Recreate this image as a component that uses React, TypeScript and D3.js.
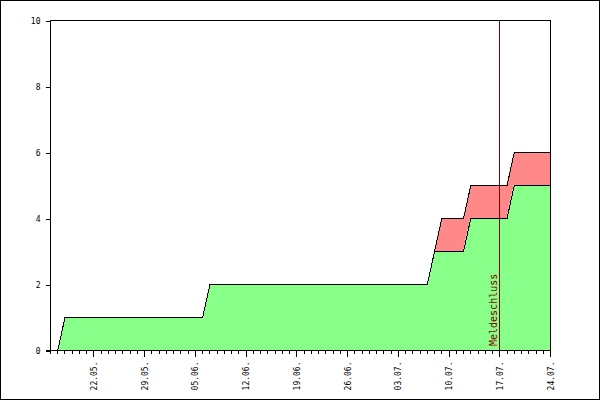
import React, { useEffect, useRef } from "react";
import * as d3 from "d3";

// axis runs from 16.05. to 24.07., data starts 17.05.
const axisStart = "2023-05-16";
const axisEnd = "2023-07-24";
const firstDay = "2023-05-17";
const deadline = "2023-07-17";
const deadlineLabel = "Meldeschluss";

// daily counts, 17.05. .. 24.07.
const greenValues = [
  0, 1, 1, 1, 1, 1, 1, 1, 1, 1, 1, 1, 1, 1, 1, 1, 1, 1, 1, 1, 1, 2, 2, 2, 2,
  2, 2, 2, 2, 2, 2, 2, 2, 2, 2, 2, 2, 2, 2, 2, 2, 2, 2, 2, 2, 2, 2, 2, 2, 2,
  2, 2, 3, 3, 3, 3, 3, 4, 4, 4, 4, 4, 4, 5, 5, 5, 5, 5, 5,
];
const redValues = [
  0, 0, 0, 0, 0, 0, 0, 0, 0, 0, 0, 0, 0, 0, 0, 0, 0, 0, 0, 0, 0, 0, 0, 0, 0,
  0, 0, 0, 0, 0, 0, 0, 0, 0, 0, 0, 0, 0, 0, 0, 0, 0, 0, 0, 0, 0, 0, 0, 0, 0,
  0, 0, 0, 1, 1, 1, 1, 1, 1, 1, 1, 1, 1, 1, 1, 1, 1, 1, 1,
];
const yTicks = [0, 2, 4, 6, 8, 10];

const App = () => {
  const ref = useRef<SVGSVGElement>(null);

  useEffect(() => {
    const svg = d3.select(ref.current);
    svg.selectAll("*").remove();

    const width = 600;
    const height = 400;
    const margin = { top: 20, right: 50, bottom: 50, left: 50 };

    const parse = d3.utcParse("%Y-%m-%d");
    const fmt = d3.utcFormat("%d.%m.");
    const start = parse(axisStart)!;
    const end = parse(axisEnd)!;
    const days = d3.utcDay.range(parse(firstDay)!, d3.utcDay.offset(end, 1));

    const data = days.map((d, i) => ({
      date: d,
      green: greenValues[i],
      total: greenValues[i] + redValues[i],
    }));

    const x = d3
      .scaleUtc()
      .domain([start, end])
      .range([margin.left, width - margin.right]);
    const y = d3
      .scaleLinear()
      .domain([0, 10])
      .range([height - margin.bottom, margin.top]);

    const font = "'DejaVu Sans Mono', monospace";

    svg
      .append("rect")
      .attr("x", 0.5)
      .attr("y", 0.5)
      .attr("width", width - 1)
      .attr("height", height - 1)
      .attr("fill", "#fff")
      .attr("stroke", "#000")
      .attr("shape-rendering", "crispEdges");

    // red area (between green and total)
    const redArea = d3
      .area<any>()
      .x((d) => x(d.date))
      .y0((d) => y(d.green))
      .y1((d) => y(d.total));
    svg
      .append("path")
      .datum(data)
      .attr("d", redArea)
      .attr("fill", "#ff8888");

    const greenArea = d3
      .area<any>()
      .x((d) => x(d.date))
      .y0(y(0))
      .y1((d) => y(d.green));
    svg
      .append("path")
      .datum(data)
      .attr("d", greenArea)
      .attr("fill", "#88ff88");

    const lineTotal = d3
      .line<any>()
      .x((d) => x(d.date) + 0.5)
      .y((d) => y(d.total) + 0.5);
    const lineGreen = d3
      .line<any>()
      .x((d) => x(d.date) + 0.5)
      .y((d) => y(d.green) + 0.5);
    [lineTotal, lineGreen].forEach((l) => {
      svg
        .append("path")
        .datum(data)
        .attr("d", l)
        .attr("fill", "none")
        .attr("stroke", "#000")
        .attr("stroke-width", 1)
        .attr("shape-rendering", "crispEdges");
    });

    // plot frame
    svg
      .append("rect")
      .attr("x", margin.left + 0.5)
      .attr("y", margin.top + 0.5)
      .attr("width", width - margin.left - margin.right)
      .attr("height", height - margin.top - margin.bottom)
      .attr("fill", "none")
      .attr("stroke", "#000")
      .attr("shape-rendering", "crispEdges");

    // deadline marker
    const dl = parse(deadline)!;
    svg
      .append("line")
      .attr("x1", x(dl) + 0.5)
      .attr("x2", x(dl) + 0.5)
      .attr("y1", margin.top)
      .attr("y2", y(0))
      .attr("stroke", "#800000")
      .attr("shape-rendering", "crispEdges");
    svg
      .append("text")
      .attr("transform", `translate(${x(dl) - 2},${y(0) - 4}) rotate(-90)`)
      .attr("font-family", font)
      .attr("font-size", 10)
      .attr("fill", "#800000")
      .text(deadlineLabel);

    // y axis
    const yAxis = svg
      .append("g")
      .attr("transform", `translate(${margin.left + 0.5},0.5)`)
      .call(
        d3.axisLeft(y).tickValues(yTicks).tickSize(5).tickPadding(5)
      );
    yAxis.select(".domain").remove();
    yAxis.selectAll("line").attr("shape-rendering", "crispEdges");
    yAxis
      .selectAll("text")
      .attr("font-family", font)
      .attr("font-size", 8)
      .attr("fill", "#000");

    // x axis: daily minor ticks, weekly labels
    const xg = svg
      .append("g")
      .attr("transform", `translate(0.5,${y(0) + 0.5})`);
    xg.append("line")
      .attr("x1", margin.left - 5)
      .attr("x2", width - margin.right)
      .attr("stroke", "#000")
      .attr("shape-rendering", "crispEdges");
    const allDays = d3.utcDay.range(start, d3.utcDay.offset(end, 1));
    const weekly = d3.utcDay
      .range(parse("2023-05-22")!, d3.utcDay.offset(end, 1), 7)
      .map((d) => +d);
    xg.selectAll(".minor")
      .data(allDays)
      .join("line")
      .attr("x1", (d) => x(d))
      .attr("x2", (d) => x(d))
      .attr("y1", 0)
      .attr("y2", (d) => (weekly.includes(+d) ? 6 : 3))
      .attr("stroke", "#000")
      .attr("shape-rendering", "crispEdges");
    xg.selectAll(".lbl")
      .data(allDays.filter((d) => weekly.includes(+d)))
      .join("text")
      .attr("transform", (d) => `translate(${x(d) + 3},11) rotate(-90)`)
      .attr("text-anchor", "end")
      .attr("font-family", font)
      .attr("font-size", 8)
      .attr("fill", "#000")
      .text((d) => fmt(d));
  }, []);

  return (
    <div style={{ position: "absolute", left: 0, top: 0 }}>
      <svg ref={ref} width={600} height={400} style={{ display: "block" }} />
    </div>
  );
};

export default App;
